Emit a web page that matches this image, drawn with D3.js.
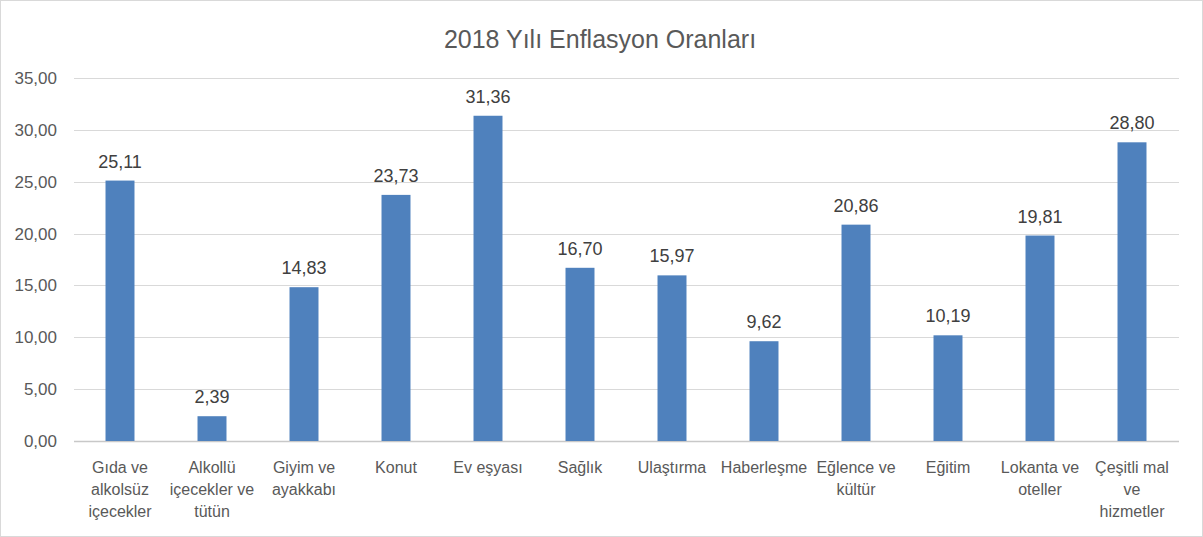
<!DOCTYPE html>
<html><head><meta charset="utf-8">
<script src="https://cdn.jsdelivr.net/npm/d3@7"></script>
<style>body{margin:0;background:#fff}svg{display:block}</style>
</head><body>
<script>
const title = "2018 Yılı Enflasyon Oranları";
const categories = ["Gıda ve\nalkolsüz\niçecekler","Alkollü\niçecekler ve\ntütün","Giyim ve\nayakkabı","Konut","Ev eşyası","Sağlık","Ulaştırma","Haberleşme","Eğlence ve\nkültür","Eğitim","Lokanta ve\noteller","Çeşitli mal\nve\nhizmetler"];
const values = [25.11,2.39,14.83,23.73,31.36,16.70,15.97,9.62,20.86,10.19,19.81,28.80];
const yTicks = [0,5,10,15,20,25,30,35];

const W=1203,H=537;
const fmt = v => v.toFixed(2).replace(".",",");
const font = "'Liberation Sans', Arial, sans-serif";
const svg = d3.select("body").append("svg").attr("width",W).attr("height",H);
svg.append("rect").attr("x",0.5).attr("y",0.5).attr("width",W-1).attr("height",H-1).attr("fill","#fff").attr("stroke","#D9D9D9");

const x = d3.scaleBand().domain(categories).range([74,1178]).paddingInner(0.685).paddingOuter(0.3425);
const y = d3.scaleLinear().domain([0,35]).range([441,78]);

svg.append("text").attr("x",600).attr("y",48).attr("text-anchor","middle")
  .attr("font-family",font).attr("font-size",25).attr("fill","#595959").text(title);

const g = svg.append("g");
g.selectAll("line.grid").data(yTicks).join("line").attr("class","grid")
  .attr("x1",74).attr("x2",1179).attr("y1",d=>Math.round(y(d))+0.5).attr("y2",d=>Math.round(y(d))+0.5)
  .attr("stroke",d=>d===0?"#C8C8C8":"#D9D9D9").attr("stroke-width",d=>d===0?1.5:1);
g.selectAll("text.yt").data(yTicks).join("text").attr("class","yt")
  .attr("x",57).attr("y",d=>y(d)+6).attr("text-anchor","end")
  .attr("font-family",font).attr("font-size",17).attr("fill","#595959").text(fmt);

g.selectAll("rect.bar").data(values).join("rect").attr("class","bar")
  .attr("x",(d,i)=>x(categories[i])).attr("width",x.bandwidth())
  .attr("y",d=>y(d)).attr("height",d=>y(0)-y(d)).attr("fill","#4F81BD");

g.selectAll("text.dl").data(values).join("text").attr("class","dl")
  .attr("x",(d,i)=>x(categories[i])+x.bandwidth()/2).attr("y",d=>y(d)-13)
  .attr("text-anchor","middle").attr("font-family",font).attr("font-size",18).attr("fill","#404040").text(fmt);

categories.forEach(c=>{
  const t = g.append("text").attr("text-anchor","middle").attr("font-family",font)
    .attr("font-size",16).attr("fill","#595959");
  c.split("\n").forEach((l,j)=>{
    t.append("tspan").attr("x",x(c)+x.bandwidth()/2).attr("y",473+j*22).text(l);
  });
});
</script>
</body></html>
